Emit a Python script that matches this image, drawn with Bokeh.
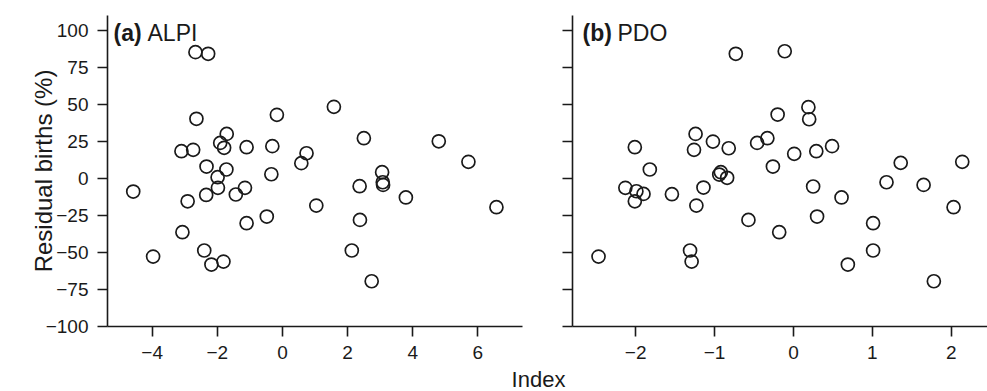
from bokeh.plotting import figure
from bokeh.layouts import row, column
from bokeh.models import Range1d, FixedTicker, Label
from bokeh.embed import file_html
from bokeh.resources import INLINE

# ---- data ----
alpi_index = [-2.67, -2.28, -2.64, -0.17, -3.10, -2.74, -1.91, -1.71, -1.79, -1.10, -0.31,
              0.58, -2.33, -1.72, -1.99, -0.34, -4.58, -2.91, -2.34, -1.98, -1.43, -1.15,
              -3.07, -1.10, -0.48, -3.97, -2.40, -2.18, -1.81, 1.58, 2.50, 4.80, 0.74,
              3.06, 3.08, 3.09, 2.37, 5.71, 3.79, 1.04, 6.57, 2.38, 2.13, 2.74]
alpi_resid = [85.5, 84.4, 40.4, 43.1, 18.5, 19.4, 24.1, 30.2, 20.8, 21.2, 21.9,
              10.4, 8.1, 6.1, 0.9, 2.9, -8.8, -15.4, -11.1, -6.3, -10.8, -6.3,
              -36.3, -30.2, -25.7, -52.8, -48.7, -58.2, -56.2, 48.5, 27.3, 25.2, 17.1,
              4.3, -2.5, -4.3, -5.2, 11.3, -12.8, -18.3, -19.4, -28.0, -48.7, -69.5]

pdo_index = [-0.73, -0.11, -0.20, -1.24, -1.26, -1.02, -0.82, -0.46, -0.33, -2.01, -1.82,
             -0.26, -0.92, -0.94, -0.84, 0.01, -2.13, -1.99, -1.90, -1.54, -1.14, -1.23,
             -0.57, -0.18, -2.47, -1.31, -1.29, 0.19, 0.20, 0.29, 0.49, 1.36, 2.14,
             0.25, 1.18, 1.65, 0.61, 2.03, 0.30, 1.01, 1.01, 0.69, 1.78, -2.01]
pdo_resid = [84.4, 86.1, 43.3, 30.2, 19.4, 25.0, 20.5, 24.1, 27.3, 21.2, 6.1,
             8.1, 4.3, 2.7, 0.5, 16.7, -6.3, -8.6, -10.4, -10.6, -6.1, -18.3,
             -28.0, -36.3, -52.8, -48.7, -56.2, 48.3, 40.1, 18.5, 21.9, 10.6, 11.3,
             -5.4, -2.5, -4.3, -12.8, -19.4, -25.7, -30.2, -48.7, -58.2, -69.5, -15.4]

y_ticks = [-100, -75, -50, -25, 0, 25, 50, 75, 100]
alpi_ticks = [-4, -2, 0, 2, 4, 6]
pdo_ticks = [-2, -1, 0, 1, 2]
panel_tags = ["(a)", "(b)"]
panel_names = ["ALPI", "PDO"]
y_label = "Residual births (%)"
x_label = "Index"

FONT = "Liberation Sans"
INK = "#1a1a1a"


def fmt(v):
    return str(v).replace("-", "\u2212")


def style(p, xticks, show_ylabels):
    p.outline_line_color = None
    p.grid.visible = False
    p.background_fill_color = None
    p.border_fill_color = None
    for ax in (p.xaxis[0], p.yaxis[0]):
        ax.axis_line_width = 1.6
        ax.axis_line_color = INK
        ax.major_tick_line_width = 1.6
        ax.major_tick_line_color = INK
        ax.major_tick_out = 10
        ax.major_tick_in = 0
        ax.minor_tick_line_color = None
        ax.major_label_text_font = FONT
        ax.major_label_text_font_size = "19px"
        ax.major_label_text_color = INK
        ax.major_label_standoff = 9
    p.xaxis[0].ticker = FixedTicker(ticks=xticks)
    p.xaxis[0].major_label_overrides = {t: fmt(t) for t in xticks}
    p.yaxis[0].ticker = FixedTicker(ticks=y_ticks)
    if show_ylabels:
        p.yaxis[0].major_label_overrides = {t: fmt(t) for t in y_ticks}
    else:
        p.yaxis[0].major_label_overrides = {t: "" for t in y_ticks}


ylo, yhi = -100.1, 110.3

# ---- panel (a) ----
p1 = figure(width=545, height=366, output_backend="svg", toolbar_location=None,
            x_range=Range1d(-5.37, 7.37), y_range=Range1d(ylo, yhi),
            min_border_left=107, min_border_right=23, min_border_top=15, min_border_bottom=40)
p1.scatter(alpi_index, alpi_resid, size=13, fill_color=None, line_color=INK, line_width=1.7)
style(p1, alpi_ticks, True)
p1.yaxis[0].axis_label = y_label
p1.yaxis[0].axis_label_text_font = FONT
p1.yaxis[0].axis_label_text_font_size = "24px"
p1.yaxis[0].axis_label_text_font_style = "normal"
p1.yaxis[0].axis_label_text_color = INK
p1.yaxis[0].axis_label_standoff = -14
p1.add_layout(Label(x=-5.37, y=98.4, x_offset=6, text=panel_tags[0], text_font=FONT,
                    text_font_size="23px", text_font_style="bold", text_color=INK,
                    text_baseline="alphabetic"))
p1.add_layout(Label(x=-5.37, y=98.4, x_offset=40, text=panel_names[0], text_font=FONT,
                    text_font_size="23px", text_color=INK, text_baseline="alphabetic"))

# ---- panel (b) ----
p2 = figure(width=442, height=366, output_backend="svg", toolbar_location=None,
            x_range=Range1d(-2.80, 2.46), y_range=Range1d(ylo, yhi),
            min_border_left=27, min_border_right=0, min_border_top=15, min_border_bottom=40)
p2.scatter(pdo_index, pdo_resid, size=13, fill_color=None, line_color=INK, line_width=1.7)
style(p2, pdo_ticks, False)
p2.add_layout(Label(x=-2.80, y=98.4, x_offset=10, text=panel_tags[1], text_font=FONT,
                    text_font_size="23px", text_font_style="bold", text_color=INK,
                    text_baseline="alphabetic"))
p2.add_layout(Label(x=-2.80, y=98.4, x_offset=45, text=panel_names[1], text_font=FONT,
                    text_font_size="23px", text_color=INK, text_baseline="alphabetic"))

# ---- shared x label strip ----
p3 = figure(width=987, height=25, output_backend="svg", toolbar_location=None,
            x_range=Range1d(0, 987), y_range=Range1d(0, 25),
            x_axis_type=None, y_axis_type=None, min_border=0)
p3.outline_line_color = None
p3.grid.visible = False
p3.add_layout(Label(x=538, y=12, text=x_label, text_font=FONT, text_font_size="22px",
                    text_color=INK, text_align="center", text_baseline="middle"))

layout = column(row(p1, p2), p3)

open("out.html", "w").write(file_html(layout, INLINE))
